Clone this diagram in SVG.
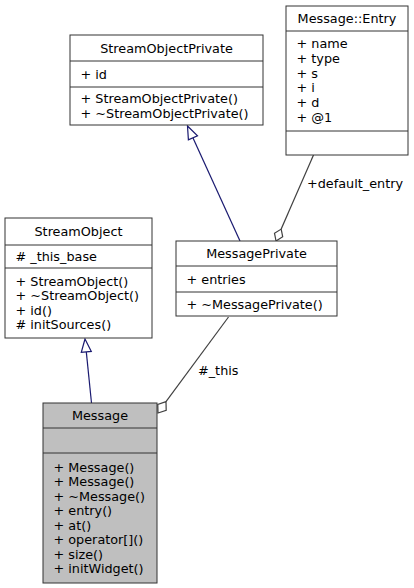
<svg xmlns="http://www.w3.org/2000/svg" width="414" height="588" viewBox="0 0 414 588">
<style>
  text { font-family: "DejaVu Sans", "Liberation Sans", sans-serif; font-size: 12.8px; fill: #000; }
  .c { text-anchor: middle; }
  .box { fill: #fff; stroke: #333; stroke-width: 1; }
  .sel { fill: #bfbfbf; stroke: #333; stroke-width: 1; }
  .sep { stroke: #333; stroke-width: 1; }
  .inh { stroke: #191970; stroke-width: 1.2; fill: none; }
  .inhhead { stroke: #191970; stroke-width: 1.2; fill: #fff; }
  .agg { stroke: #404040; stroke-width: 1.2; fill: none; }
  .agghead { stroke: #404040; stroke-width: 1.2; fill: #fff; }
</style>
<rect width="414" height="588" fill="#fff"/>
<g id="connectors">
  <!-- MessagePrivate -> StreamObjectPrivate (inheritance) -->
  <line class="inh" x1="192.9" y1="137.8" x2="240" y2="241"/>
  <polygon class="inhhead" points="187.5,126 197.5,135.7 188.4,139.9"/>
  <!-- Message -> StreamObject (inheritance) -->
  <line class="inh" x1="86.3" y1="351.9" x2="91.5" y2="403"/>
  <polygon class="inhhead" points="85,339 91.3,351.4 81.3,352.4"/>
  <!-- Message::Entry -> MessagePrivate (aggregation) -->
  <line class="agg" x1="281.2" y1="229.1" x2="313.5" y2="155"/>
  <polygon class="agghead" points="276,241 274.5,233.2 281.2,229.1 282.7,236.8"/>
  <text x="307" y="188">+default_entry</text>
  <!-- MessagePrivate -> Message (aggregation) -->
  <line class="agg" x1="166" y1="401.7" x2="228.5" y2="317"/>
  <polygon class="agghead" points="158,413 157.8,404.5 166,401.7 166.2,410.2"/>
  <text x="198" y="375">#_this</text>
</g>
<g id="node-StreamObjectPrivate">
  <rect class="box" x="70" y="35" width="193" height="90"/>
  <line class="sep" x1="70" y1="61" x2="263" y2="61"/>
  <line class="sep" x1="70" y1="87" x2="263" y2="87"/>
  <text class="c" x="166.5" y="52.5">StreamObjectPrivate</text>
  <text x="80.5" y="78.5">+ id</text>
  <text x="80.5" y="103.25">+ StreamObjectPrivate()</text>
  <text x="80.5" y="117.75">+ ~StreamObjectPrivate()</text>
</g>
<g id="node-MessageEntry">
  <rect class="box" x="286" y="6" width="122" height="149"/>
  <line class="sep" x1="286" y1="31" x2="408" y2="31"/>
  <line class="sep" x1="286" y1="131" x2="408" y2="131"/>
  <text class="c" x="347" y="23">Message::Entry</text>
  <text x="296.5" y="48">+ name</text>
  <text x="296.5" y="62.8">+ type</text>
  <text x="296.5" y="77.6">+ s</text>
  <text x="296.5" y="92.4">+ i</text>
  <text x="296.5" y="107.2">+ d</text>
  <text x="296.5" y="122">+ @1</text>
</g>
<g id="node-StreamObject">
  <rect class="box" x="5" y="218" width="147" height="120"/>
  <line class="sep" x1="5" y1="245" x2="152" y2="245"/>
  <line class="sep" x1="5" y1="268" x2="152" y2="268"/>
  <text class="c" x="78.5" y="236">StreamObject</text>
  <text x="15.5" y="261">#  _this_base</text>
  <text x="15.5" y="285.75">+ StreamObject()</text>
  <text x="15.5" y="300.25">+ ~StreamObject()</text>
  <text x="15.5" y="314.75">+ id()</text>
  <text x="15.5" y="329.25">#  initSources()</text>
</g>
<g id="node-MessagePrivate">
  <rect class="box" x="176" y="241" width="161" height="75"/>
  <line class="sep" x1="176" y1="266" x2="337" y2="266"/>
  <line class="sep" x1="176" y1="292" x2="337" y2="292"/>
  <text class="c" x="256.5" y="258">MessagePrivate</text>
  <text x="186.5" y="283.5">+ entries</text>
  <text x="186.5" y="308.5">+ ~MessagePrivate()</text>
</g>
<g id="node-Message">
  <rect class="sel" x="43" y="403" width="114" height="180"/>
  <line class="sep" x1="43" y1="428" x2="157" y2="428"/>
  <line class="sep" x1="43" y1="453" x2="157" y2="453"/>
  <text class="c" x="100" y="420">Message</text>
  <text x="53.5" y="471.5">+ Message()</text>
  <text x="53.5" y="486">+ Message()</text>
  <text x="53.5" y="500.5">+ ~Message()</text>
  <text x="53.5" y="515">+ entry()</text>
  <text x="53.5" y="529.5">+ at()</text>
  <text x="53.5" y="544">+ operator[]()</text>
  <text x="53.5" y="558.5">+ size()</text>
  <text x="53.5" y="573">+ initWidget()</text>
</g>
</svg>
